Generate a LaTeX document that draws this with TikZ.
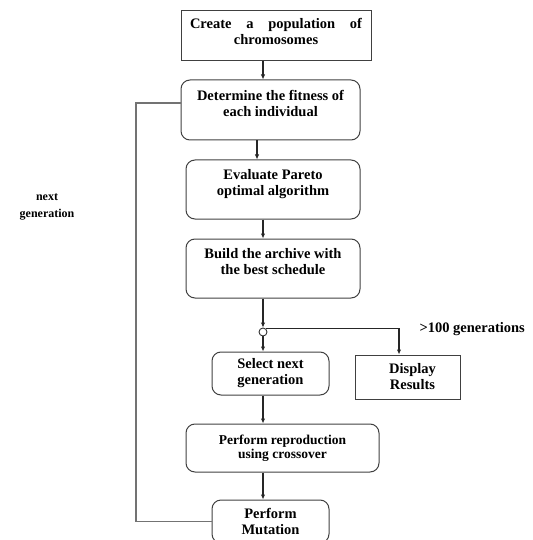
\documentclass[tikz,border=0pt]{standalone}
\usepackage{fontspec}
\setmainfont{Liberation Serif}
\usetikzlibrary{arrows.meta}

\tikzset{
  stage/.style={draw=black!75, line width=1pt, rounded corners=9pt, align=center,
    inner sep=2pt, font=\bfseries\fontsize{14.5}{16}\selectfont},
  plain/.style={stage, rounded corners=0pt},
  flow/.style={draw=black!85, line width=1.1pt, -{Latex[length=5pt,width=4.5pt]}},
  back/.style={draw=black!55, line width=1.4pt},
}

\begin{document}
\begin{tikzpicture}[x=1pt,y=-1pt]
        \useasboundingbox (0,0) rectangle (532,540);
        \coordinate (spine) at (263,0);
        \coordinate (side) at (257,0);
        \coordinate (loop) at (136,0);

        % main column
        \node[plain, minimum width=190pt, minimum height=50pt] (pop) at (276,36)
             {\makebox[172pt][s]{Create a population of}\\chromosomes\\[-6pt]\mbox{}};
        \node[stage, minimum width=179pt, minimum height=60pt] (fit) at (270.5,110)
             {Determine the fitness of\\each individual\\[-3pt]\mbox{}};
        \node[stage, minimum width=174pt, minimum height=59pt] (pareto) at (273,189.5)
             {Evaluate Pareto\\optimal algorithm\\[-2pt]\mbox{}};
        \node[stage, minimum width=174pt, minimum height=59pt] (build) at (273,268.5)
             {Build the archive with\\the best schedule\\[-1pt]\mbox{}};
        \node[circle, draw=black!80, line width=.9pt, fill=white, inner sep=0pt,
              minimum size=8pt] (jn) at (263,332) {};
        \node[stage, minimum width=117pt, minimum height=43pt] (sel) at (270.5,373.5)
             {Select next\\generation};
        \node[plain, minimum width=105pt, minimum height=44pt] (disp) at (407.5,377)
             {\hspace*{10pt}Display\\\hspace*{10pt}Results};
        \node[stage, minimum width=193pt, minimum height=48pt,
              font=\bfseries\fontsize{13.5}{13.5}\selectfont] (cross) at (282.5,448)
             {Perform reproduction\\using crossover};
        \node[stage, minimum width=117pt, minimum height=43pt] (mut) at (270.5,521.5)
             {Perform\\Mutation};

        \foreach \a/\b in {pop/fit, pareto/build, build/jn, jn/sel, sel/cross, cross/mut}
                \draw[flow] (\a.south -| spine) -- (\b.north -| spine);
        \draw[flow] (fit.south -| side) -- (pareto.north -| side);
        \draw[flow] (jn.north east) -| ([xshift=-8.5pt]disp.north);

        % loop back to the fitness step
        \draw[back] (mut.west) -| ([yshift=7pt]fit.west -| loop) -- ([yshift=7pt]fit.west);

        \node[anchor=west, font=\bfseries\fontsize{14.5}{16}\selectfont] (gens) at (416,329)
             {>100 generations};
        \node[align=center, font=\bfseries\fontsize{12}{17}\selectfont] (nextgen) at (47,207)
             {next\\generation};
\end{tikzpicture}
\end{document}
